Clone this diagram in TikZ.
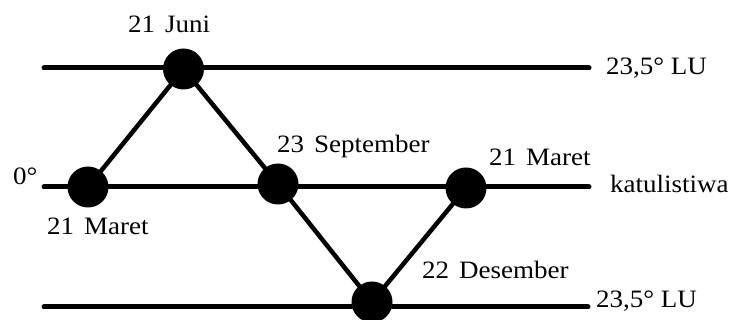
\documentclass[tikz,border=0pt]{standalone}
\usepackage{fontspec}
\setmainfont[FakeStretch=1.08]{Liberation Serif}
\begin{document}
\begin{tikzpicture}[x=1pt,y=-1pt,
  dot/.style={circle,fill=black,draw=none,minimum size=41pt,inner sep=0pt},
  hline/.style={line width=5pt,line cap=round},
  dline/.style={line width=4.5pt},
  lbl/.style={anchor=base west,inner sep=0pt,font=\fontsize{25}{29}\selectfont}]
\useasboundingbox (0,0) rectangle (732,320);
% horizontal lines
\coordinate (t1) at (44,68);  \coordinate (t2) at (589,68);
\coordinate (m1) at (44,187); \coordinate (m2) at (589,187);
\coordinate (b1) at (44,307); \coordinate (b2) at (588,307);
\draw[hline] (t1) -- (t2);
\draw[hline] (m1) -- (m2);
\draw[hline] (b1) -- (b2);
% dots
\node[dot] (jun) at (183.5,69) {};
\node[dot] (mar1) at (88,187) {};
\node[dot] (sep) at (278,184) {};
\node[dot] (mar2) at (466,188) {};
\node[dot] (des) at (372,302) {};
% diagonals
\draw[dline] (mar1.center) -- (jun.center) -- (sep.center) -- (des.center) -- (mar2.center);
% labels
\node[lbl] (ljun) at (128,33) {21\hspace{0.4em}Juni};
\node[lbl] (llu1) at (606,75) {23,5° LU};
\node[lbl] (lsep) at (277,153) {23\hspace{0.4em}September};
\node[lbl] (lmar2) at (489,166) {21\hspace{0.4em}Maret};
\node[lbl] (lnol) at (13,185) {0°};
\node[lbl] (lmar1) at (47,235) {21\hspace{0.4em}Maret};
\node[lbl] (lkat) at (610,193) {katulistiwa};
\node[lbl] (ldes) at (422,279) {22\hspace{0.4em}Desember};
\node[lbl] (llu2) at (596,308) {23,5° LU};
\end{tikzpicture}
\end{document}
